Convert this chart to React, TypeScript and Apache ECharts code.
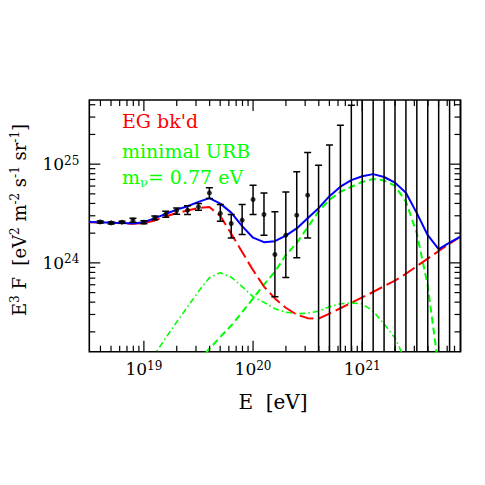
import React, { useEffect, useRef } from "react";
import * as echarts from "echarts";

// ---------- data (log10 values) ----------
const X_MIN = 18.5;
const X_MAX = 21.9;
const Y_MIN = 23.1;
const Y_MAX = 25.65;

const X_LABEL_EXPS = [19, 20, 21];
const Y_LABEL_EXPS = [24, 25];

// energies, log10(E/eV)
const E_GRID = [
  18.5, 18.6, 18.7, 18.8, 18.9, 19.0, 19.1, 19.2, 19.3, 19.4, 19.5, 19.6,
  19.7, 19.8, 19.9, 20.0, 20.1, 20.2, 20.3, 20.4, 20.5, 20.6, 20.7, 20.8,
  20.9, 21.0, 21.1, 21.2, 21.3, 21.4, 21.5, 21.6, 21.7, 21.8, 21.9,
];
// EG background (red, long dash)
const EG_BKD = [
  24.412, 24.41, 24.407, 24.402, 24.397, 24.402, 24.43, 24.47, 24.505, 24.53,
  24.555, 24.565, 24.475, 24.295, 24.11, 23.926, 23.76, 23.64, 23.545, 23.475,
  23.44, 23.435, 23.485, 23.54, 23.595, 23.65, 23.705, 23.764, 23.82, 23.89,
  23.967, 24.043, 24.12, 24.195, 24.265,
];
// total (blue, solid)
const TOTAL = [
  24.415, 24.411, 24.407, 24.403, 24.399, 24.412, 24.453, 24.495, 24.539,
  24.574, 24.618, 24.656, 24.6, 24.509, 24.372, 24.255, 24.21, 24.22, 24.276,
  24.349, 24.453, 24.554, 24.676, 24.772, 24.838, 24.878, 24.899, 24.87,
  24.813, 24.711, 24.504, 24.28, 24.14, 24.205, 24.265,
];
// dashed green component
const Z_E = [
  19.5, 19.6, 19.7, 19.8, 19.9, 20.0, 20.1, 20.2, 20.3, 20.4, 20.5, 20.6,
  20.7, 20.8, 20.9, 21.0, 21.1, 21.2, 21.3, 21.4, 21.5, 21.6, 21.7,
];
const Z_DASHED = [
  23.0, 23.13, 23.25, 23.365, 23.5, 23.64, 23.78, 23.91, 24.08, 24.2, 24.36,
  24.52, 24.64, 24.72, 24.77, 24.82, 24.85, 24.835, 24.78, 24.62, 24.3, 23.77,
  22.93,
];
// dot-dashed green component
const DD_E = [
  19.0, 19.1, 19.2, 19.3, 19.4, 19.5, 19.6, 19.7, 19.8, 19.9, 20.0, 20.1,
  20.2, 20.3, 20.4, 20.5, 20.6, 20.7, 20.8, 20.9, 21.0, 21.1, 21.2, 21.3, 21.4,
];
const DD_VALUES = [
  22.92, 23.075, 23.24, 23.4, 23.555, 23.71, 23.85, 23.9, 23.855, 23.76,
  23.655, 23.6, 23.535, 23.5, 23.485, 23.49, 23.51, 23.555, 23.585, 23.595,
  23.585, 23.51, 23.38, 23.24, 23.0,
];
// measured points
const PT_E = [
  18.6, 18.7, 18.8, 18.9, 19.0, 19.1, 19.2, 19.3, 19.4, 19.5, 19.6, 19.7,
  19.8, 19.9, 20.0, 20.1, 20.2, 20.3, 20.4, 20.5,
];
const PT_F = [
  24.415, 24.405, 24.412, 24.433, 24.412, 24.456, 24.493, 24.531, 24.534,
  24.567, 24.709, 24.5, 24.399, 24.433, 24.642, 24.49, 24.085, 24.281, 24.483,
  24.686,
];
// error bars (lower, upper); 22 / 26 = off scale
const ERR_E = [
  18.6, 18.7, 18.8, 18.9, 19.0, 19.1, 19.2, 19.3, 19.4, 19.5, 19.6, 19.7,
  19.8, 19.9, 20.0, 20.1, 20.2, 20.3, 20.4, 20.5, 20.6, 20.7, 20.8, 20.9,
  21.0, 21.1, 21.2, 21.3, 21.4, 21.5, 21.6, 21.7, 21.8, 21.9,
];
const ERR_LO = [
  24.405, 24.395, 24.402, 24.412, 24.397, 24.436, 24.463, 24.493, 24.49,
  24.534, 24.652, 24.422, 24.253, 24.288, 24.49, 24.281, 23.656, 23.852,
  24.051, 24.253, 22, 22, 22, 22, 22, 22, 22, 22, 22, 22, 22, 22, 22, 22,
];
const ERR_HI = [
  24.425, 24.415, 24.422, 24.452, 24.427, 24.476, 24.523, 24.557, 24.578,
  24.602, 24.76, 24.592, 24.49, 24.592, 24.787, 24.709, 24.517, 24.719,
  24.922, 25.119, 24.99, 25.193, 25.395, 25.598, 26, 26, 26, 26, 26, 26, 26,
  26, 26, 26,
];

const X_DECADES = [18, 19, 20, 21];
const Y_DECADES = [23, 24, 25];
const MINOR_MULTS = [2, 3, 4, 5, 6, 7, 8, 9];

const FONT = "DejaVu Serif";
const GREEN = "#00ff00";

function buildTicks() {
  const out: number[][] = [];
  const MAJ = 11;
  const MIN = 6;
  for (const d of X_DECADES) {
    if (d >= X_MIN && d <= X_MAX) {
      out.push([d, 0, MAJ], [d, 1, MAJ]);
    }
    for (const k of MINOR_MULTS) {
      const v = d + Math.log10(k);
      if (v > X_MIN && v < X_MAX) out.push([v, 0, MIN], [v, 1, MIN]);
    }
  }
  for (const d of Y_DECADES) {
    if (d >= Y_MIN && d <= Y_MAX) {
      out.push([d, 2, MAJ], [d, 3, MAJ]);
    }
    for (const k of MINOR_MULTS) {
      const v = d + Math.log10(k);
      if (v > Y_MIN && v < Y_MAX) out.push([v, 2, MIN], [v, 3, MIN]);
    }
  }
  return out;
}

function pow10Label(v: number) {
  const r = Math.round(v);
  if (Math.abs(v - r) > 1e-6) return "";
  return `{b|10}{s|${r}}`;
}

const labelRich = {
  b: { fontSize: 17, fontFamily: FONT, color: "#000", lineHeight: 19 },
  s: {
    fontSize: 12,
    fontFamily: FONT,
    color: "#000",
    verticalAlign: "top",
    lineHeight: 12,
  },
};

export default function App() {
  const ref = useRef<HTMLDivElement>(null);

  useEffect(() => {
    document.body.style.margin = "0";
    if (!ref.current) return;
    const chart = echarts.init(ref.current, undefined, { renderer: "svg" });

    const zip = (xs: number[], ys: number[]) => xs.map((x, i) => [x, ys[i]]);
    const errData = ERR_E.map((x, i) => [x, ERR_LO[i], ERR_HI[i]]);

    const option: any = {
      animation: false,
      backgroundColor: "#fff",
      grid: {
        left: 89.3,
        right: 24.5,
        top: 100,
        bottom: 133.3,
        show: true,
        borderColor: "#000",
        borderWidth: 1.6,
        backgroundColor: "transparent",
      },
      xAxis: {
        type: "value",
        min: X_MIN,
        max: X_MAX,
        axisLine: { show: false },
        axisTick: { show: false },
        splitLine: { show: false },
        axisLabel: {
          customValues: X_LABEL_EXPS,
          formatter: (v: number) => pow10Label(v),
          margin: 8,
          rich: labelRich,
        },
      },
      yAxis: {
        type: "value",
        min: Y_MIN,
        max: Y_MAX,
        axisLine: { show: false },
        axisTick: { show: false },
        splitLine: { show: false },
        axisLabel: {
          customValues: Y_LABEL_EXPS,
          formatter: (v: number) => pow10Label(v),
          margin: 10,
          rich: labelRich,
        },
      },
      series: [
        {
          type: "line",
          data: zip(DD_E, DD_VALUES),
          showSymbol: false,
          clip: true,
          lineStyle: { color: GREEN, width: 1.6, type: [6, 3, 1.5, 3] },
          z: 2,
        },
        {
          type: "line",
          data: zip(Z_E, Z_DASHED),
          showSymbol: false,
          clip: true,
          lineStyle: { color: GREEN, width: 2, type: [7, 4] },
          z: 2,
        },
        {
          type: "line",
          data: zip(E_GRID, EG_BKD),
          showSymbol: false,
          clip: true,
          lineStyle: { color: "#ff0000", width: 2, type: [14, 5] },
          z: 3,
        },
        {
          type: "line",
          data: zip(E_GRID, TOTAL),
          showSymbol: false,
          clip: true,
          lineStyle: { color: "#0000ff", width: 2, type: "solid" },
          z: 4,
        },
        {
          type: "custom",
          data: errData,
          clip: true,
          silent: true,
          encode: { x: 0, y: [1, 2] },
          z: 5,
          renderItem: (params: any, api: any) => {
            const x = api.value(0);
            const lo = api.coord([x, api.value(1)]);
            const hi = api.coord([x, api.value(2)]);
            const hw = 3.5;
            const st = { stroke: "#000", lineWidth: 1.5 };
            return {
              type: "group",
              children: [
                { type: "line", shape: { x1: lo[0], y1: lo[1], x2: hi[0], y2: hi[1] }, style: st },
                { type: "line", shape: { x1: lo[0] - hw, y1: lo[1], x2: lo[0] + hw, y2: lo[1] }, style: st },
                { type: "line", shape: { x1: hi[0] - hw, y1: hi[1], x2: hi[0] + hw, y2: hi[1] }, style: st },
              ],
            };
          },
        },
        {
          type: "scatter",
          data: zip(PT_E, PT_F),
          symbol: "circle",
          symbolSize: 5,
          itemStyle: { color: "#000" },
          z: 6,
        },
        {
          type: "custom",
          data: buildTicks(),
          clip: false,
          silent: true,
          z: 7,
          renderItem: (params: any, api: any) => {
            const cs = params.coordSys;
            const v = api.value(0);
            const side = api.value(1);
            const len = api.value(2);
            const st = { stroke: "#000", lineWidth: 1.2 };
            if (side < 2) {
              const px = api.coord([v, Y_MIN])[0];
              const y0 = side === 0 ? cs.y + cs.height : cs.y;
              const y1 = side === 0 ? y0 - len : y0 + len;
              return { type: "line", shape: { x1: px, y1: y0, x2: px, y2: y1 }, style: st };
            }
            const py = api.coord([X_MIN, v])[1];
            const x0 = side === 2 ? cs.x : cs.x + cs.width;
            const x1 = side === 2 ? x0 + len : x0 - len;
            return { type: "line", shape: { x1: x0, y1: py, x2: x1, y2: py }, style: st };
          },
        },
      ],
      graphic: [
        {
          type: "text",
          x: 122,
          y: 121,
          style: {
            text: "EG bk'd",
            fill: "#ff0000",
            fontSize: 19,
            fontFamily: FONT,
            verticalAlign: "middle",
          },
        },
        {
          type: "text",
          x: 122,
          y: 151,
          style: {
            text: "minimal URB",
            fill: GREEN,
            fontSize: 19,
            fontFamily: FONT,
            verticalAlign: "middle",
          },
        },
        {
          type: "text",
          x: 122,
          y: 177,
          style: {
            text: "{n|m}{sub|ν}{n|= 0.77 eV}",
            fill: GREEN,
            verticalAlign: "middle",
            rich: {
              n: { fontSize: 19, fontFamily: FONT, fill: GREEN, lineHeight: 24 },
              sub: {
                fontSize: 13,
                fontFamily: FONT,
                fill: GREEN,
                verticalAlign: "bottom",
                lineHeight: 13,
              },
            },
          },
        },
        {
          type: "text",
          x: 273,
          y: 402,
          style: {
            text: "E  [eV]",
            fill: "#000",
            fontSize: 20,
            fontFamily: FONT,
            align: "center",
            verticalAlign: "middle",
          },
        },
        {
          type: "text",
          x: 19,
          y: 220,
          rotation: Math.PI / 2,
          style: {
            text:
              "{n|E}{s|3}{n| F  [eV}{s|2}{n| m}{s|-2}{n| s}{s|-1}{n| sr}{s|-1}{n|]}",
            fill: "#000",
            align: "center",
            verticalAlign: "middle",
            rich: {
              n: { fontSize: 18, fontFamily: FONT, fill: "#000", lineHeight: 21 },
              s: {
                fontSize: 12,
                fontFamily: FONT,
                fill: "#000",
                verticalAlign: "top",
                lineHeight: 12,
              },
            },
          },
        },
      ],
    };

    chart.setOption(option);
    return () => chart.dispose();
  }, []);

  return <div ref={ref} style={{ width: 485, height: 485 }} />;
}
